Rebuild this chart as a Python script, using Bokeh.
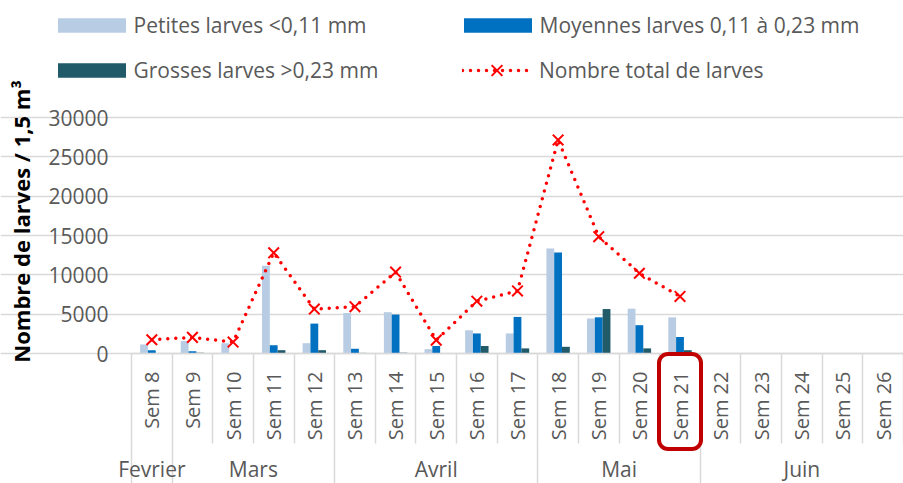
import math
from bokeh.plotting import figure
from bokeh.models import (ColumnDataSource, FixedTicker, LinearAxis, Range1d, Legend, LegendItem,
                          BoxAnnotation, NumeralTickFormatter)
from bokeh.transform import dodge
from bokeh.embed import file_html
from bokeh.resources import INLINE

NaN = float("nan")

weeks = ["Sem 8", "Sem 9", "Sem 10", "Sem 11", "Sem 12", "Sem 13", "Sem 14", "Sem 15",
         "Sem 16", "Sem 17", "Sem 18", "Sem 19", "Sem 20", "Sem 21", "Sem 22", "Sem 23",
         "Sem 24", "Sem 25", "Sem 26"]
petites = [1150, 1600, 1310, 11150, 1310, 5150, 5250, 550, 2950, 2550, 13350, 4450, 5700, 4600,
           NaN, NaN, NaN, NaN, NaN]
moyennes = [420, 300, 60, 1050, 3800, 600, 4950, 950, 2550, 4650, 12850, 4600, 3600, 2100,
            NaN, NaN, NaN, NaN, NaN]
grosses = [40, 100, 20, 420, 420, 80, 100, 30, 950, 650, 850, 5650, 650, 420,
           NaN, NaN, NaN, NaN, NaN]
total = [1750, 2050, 1450, 12800, 5650, 5950, 10350, 1700, 6650, 7950, 27150, 14850, 10200, 7250,
         NaN, NaN, NaN, NaN, NaN]

months = ["Fevrier", "Mars", "Avril", "Mai", "Juin"]
month_first_week = ["Sem 8", "Sem 9", "Sem 13", "Sem 18", "Sem 22"]
month_last_week = ["Sem 8", "Sem 12", "Sem 17", "Sem 21", "Sem 26"]
highlight_week = "Sem 21"
y_ticks = [0, 5000, 10000, 15000, 20000, 25000, 30000]

labels = ["Petites larves <0,11 mm", "Moyennes larves 0,11 à 0,23 mm",
          "Grosses larves >0,23 mm", "Nombre total de larves"]
y_title = "Nombre de larves / 1,5 m³"
colors = ["#b8cce4", "#0070c0", "#215a69"]

FONT = "Open Sans"
GREY = "#595959"
GRID = "#d9d9d9"

# ---- layout constants (pixels) ----
W, H = 903, 483
PLOT_LEFT, PLOT_TOP, PLOT_BOTTOM = 131, 117, 353
TITLE_CENTER = 221
CAT_W = 40.63
Y_MAX = y_ticks[-1]
PX = Y_MAX / (PLOT_BOTTOM - PLOT_TOP)          # data units per pixel (y)

n = len(weeks)
x0 = -0.5 - PLOT_LEFT / CAT_W
x1 = -0.5 + (W - PLOT_LEFT) / CAT_W
y0 = -(H - PLOT_BOTTOM) * PX
y1 = Y_MAX + PLOT_TOP * PX

idx = list(range(n))
src = ColumnDataSource(dict(x=idx, petites=petites, moyennes=moyennes, grosses=grosses, total=total))

bw = 0.192
p = figure(width=W, height=H, title=None, output_backend="svg", toolbar_location=None,
           x_range=Range1d(x0, x1), y_range=Range1d(y0, y1),
           min_border_left=0, min_border_right=0, min_border_top=0, min_border_bottom=0)
p.outline_line_color = None
p.xgrid.visible = False
p.ygrid.ticker = FixedTicker(ticks=y_ticks)
p.ygrid.grid_line_color = GRID
p.ygrid.grid_line_width = 1.5
p.ygrid.bounds = (-0.5, n - 0.5)

r1 = p.vbar(x=dodge("x", -bw), top="petites", width=bw, source=src,
            fill_color=colors[0], line_color=None)
r2 = p.vbar(x="x", top="moyennes", width=bw, source=src, fill_color=colors[1], line_color=None)
r3 = p.vbar(x=dodge("x", bw), top="grosses", width=bw, source=src,
            fill_color=colors[2], line_color=None)
r4 = p.line(x="x", y="total", source=src, line_color="#ff0000", line_width=3.5,
            line_dash="0 8", line_cap="round")
r5 = p.scatter(x="x", y="total", source=src, marker="x", size=15, line_color="#ff0000",
               line_width=2)

# ---- Y axis (drawn at the left edge of the plot area) ----
ya = p.yaxis[0]
ya.fixed_location = -0.5
ya.bounds = (0, 2 * (PLOT_BOTTOM - TITLE_CENTER) * PX)
ya.ticker = FixedTicker(ticks=y_ticks)
ya.formatter = NumeralTickFormatter(format="0")
ya.axis_line_color = None
ya.major_tick_line_color = None
ya.minor_tick_line_color = None
ya.major_tick_out = 0
ya.major_tick_in = 0
ya.major_label_standoff = 23
ya.major_label_text_font = FONT
ya.major_label_text_font_size = "21px"
ya.major_label_text_color = GREY
ya.axis_label = y_title
ya.axis_label_standoff = 9
ya.axis_label_text_font = FONT
ya.axis_label_text_font_size = "22px"
ya.axis_label_text_font_style = "bold"
ya.axis_label_text_color = "black"

# ---- X axis (weeks) ----
WEEK_TICK = 90
xa = p.xaxis[0]
xa.fixed_location = 0
xa.bounds = (-0.5, n - 0.5)
xa.ticker = FixedTicker(ticks=idx, minor_ticks=[i - 0.5 for i in range(n + 1)])
xa.major_label_overrides = {i: w for i, w in enumerate(weeks)}
xa.major_label_orientation = math.pi / 2
xa.major_label_standoff = 18 - WEEK_TICK
xa.major_tick_out = 0
xa.major_tick_in = 0
xa.minor_tick_out = WEEK_TICK
xa.minor_tick_in = 0
xa.minor_tick_line_color = GRID
xa.minor_tick_line_width = 1.5
xa.axis_line_color = GRID
xa.axis_line_width = 1.5
xa.major_label_text_font = FONT
xa.major_label_text_font_size = "20px"
xa.major_label_text_color = GREY

# ---- X axis (months) ----
MONTH_TICK = 60
m_first = [weeks.index(w) for w in month_first_week]
m_last = [weeks.index(w) for w in month_last_week]
m_centers = [(a + b) / 2 for a, b in zip(m_first, m_last)]
m_bounds = [a - 0.5 for a in m_first]
xm = LinearAxis(ticker=FixedTicker(ticks=m_centers, minor_ticks=m_bounds))
xm.fixed_location = -WEEK_TICK * PX
xm.bounds = (-0.5, n - 0.5)
xm.major_label_overrides = {c: m for c, m in zip(m_centers, months)}
xm.axis_line_color = None
xm.major_tick_line_color = None
xm.major_tick_out = 0
xm.major_tick_in = 0
xm.minor_tick_out = MONTH_TICK
xm.minor_tick_in = 0
xm.minor_tick_line_color = GRID
xm.minor_tick_line_width = 1.5
xm.major_label_standoff = 11 - MONTH_TICK
xm.major_label_text_font = FONT
xm.major_label_text_font_size = "21px"
xm.major_label_text_color = GREY
p.add_layout(xm, "below")

# ---- Highlight box around the Sem 21 label ----
hi = weeks.index(highlight_week)
box = BoxAnnotation(left=hi - 0.517, right=hi + 0.517, top=-0.5 * PX, bottom=-95.5 * PX,
                    fill_alpha=0, line_color="#c00000", line_alpha=1.0, line_width=4,
                    border_radius=9)
p.add_layout(box)

# ---- Legends ----
common = dict(padding=0, margin=0, border_line_color=None, background_fill_alpha=0,
              label_text_font=FONT, label_text_font_size="21px", label_text_color=GREY)
leg1 = Legend(items=[LegendItem(label=labels[0], renderers=[r1]),
                     LegendItem(label=labels[1], renderers=[r2]),
                     LegendItem(label=labels[2], renderers=[r3])],
              orientation="horizontal", ncols=2, location=(48.5, H - 84),
              glyph_width=85, glyph_height=18, label_standoff=0, label_width=304, spacing=17,
              **common)
leg2 = Legend(items=[LegendItem(label=labels[3], renderers=[r4, r5])],
              location=(462, H - 89), glyph_width=69, glyph_height=38, label_standoff=8,
              **common)
p.add_layout(leg1)
p.add_layout(leg2)

open("out.html", "w").write(file_html(p, INLINE))
